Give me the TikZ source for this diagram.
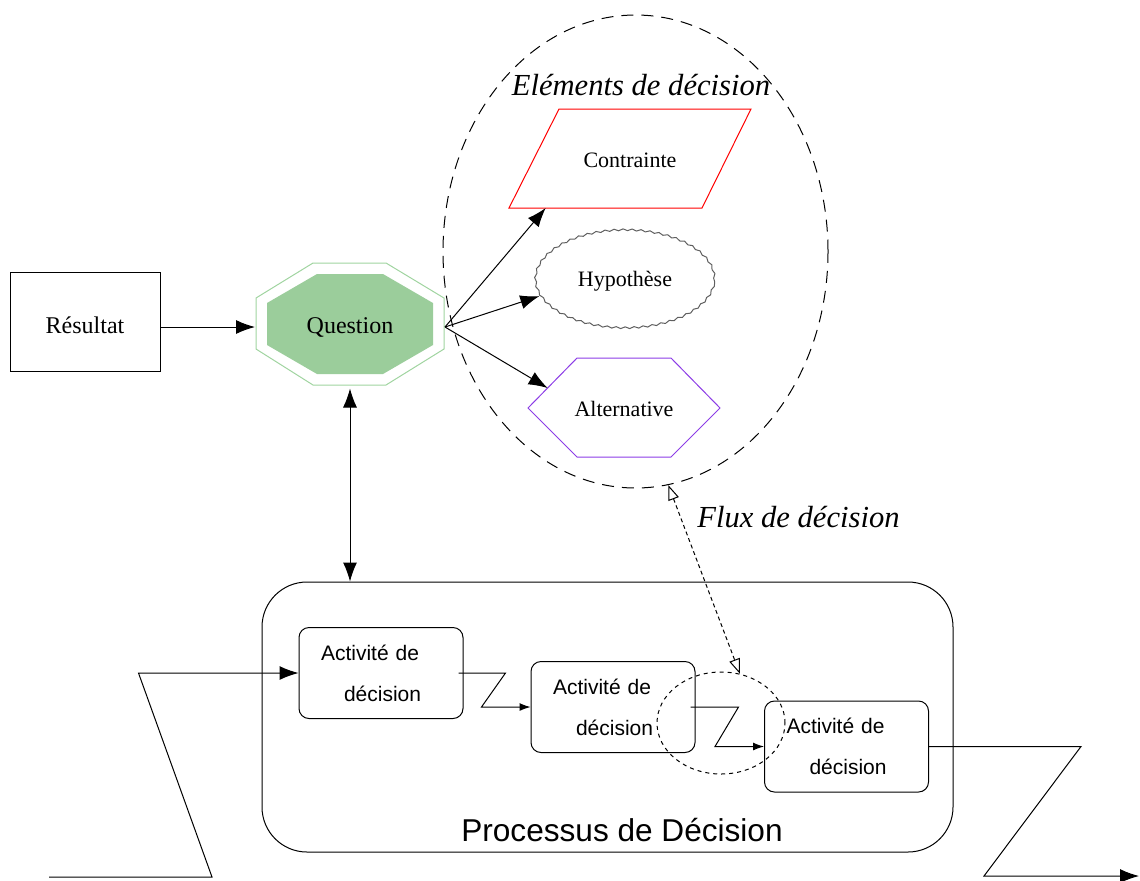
\documentclass[tikz,border=0pt]{standalone}
\usepackage{fontspec}
\setmainfont{Liberation Serif}
\setsansfont{Liberation Sans}
\usetikzlibrary{arrows.meta,shapes.geometric,decorations.pathmorphing,calc}

\definecolor{qfill}{RGB}{155,205,155}
\definecolor{qline}{RGB}{160,212,160}
\definecolor{hypgray}{RGB}{95,95,95}
\definecolor{altviolet}{RGB}{140,60,230}

\begin{document}
\begin{tikzpicture}[x=0.5pt, y=-0.5pt, line width=0.5pt,
    bigtip/.style={-{Latex[length=9.5pt,width=7pt]}},
    smalltip/.style={-{Latex[length=5.5pt,width=4pt]}},
    shapetext/.style={font=\fontsize{11}{13}\selectfont},
    headline/.style={anchor=base, font=\fontsize{15.3}{18}\selectfont\itshape},
    activity/.style={draw, rounded corners=5pt, text width=60pt, align=left,
        inner xsep=11pt, minimum height=45.5pt,
        font=\sffamily\fontsize{10.5}{20.5}\selectfont}]
    \useasboundingbox (0,0) rectangle (1140,880);
    % Result and question
    \node[draw, minimum width=75pt, minimum height=49.5pt, text height=11.5pt,
        text depth=0pt, font=\fontsize{12}{14}\selectfont] (res) at (85,321.5) {Résultat};
    \draw[qline] (313,263) -- (386,263) -- (444,298) -- (444,349) -- (386,385)
        -- (313,385) -- (256,349) -- (256,298) -- cycle;
    \fill[qfill] (317,274) -- (383,274) -- (433,303) -- (433,345) -- (383,374)
        -- (317,374) -- (267,345) -- (267,303) -- cycle;
    \node[minimum width=94.5pt, minimum height=61pt, inner sep=0pt,
        font=\fontsize{12}{14}\selectfont] (quest) at (350,327) {Question};
    \draw[bigtip] (res.east |- quest.west) -- (quest.west);
    % Decision elements
    \node[ellipse, draw, dash pattern=on 6pt off 4pt, minimum width=192.5pt,
        minimum height=236.5pt] (elem) at (635.5,251.5) {};
    \node[headline] (elemtitle) at (641,95) {Eléments de décision};
    \draw[red] (509,208) coordinate (contr-bl) -- (559,109) -- (751,109)
        -- (702,208) coordinate (contr-br) -- cycle;
    \node[shapetext] (contr) at (630,160) {Contrainte};
    \node[shapetext, ellipse, draw=hypgray, minimum width=89.5pt, minimum height=49pt,
        decorate, decoration={snake, segment length=4.5pt, amplitude=0.45pt}]
        (hyp) at (625,281) {Hypothèse};
    \draw[altviolet] (528,408) coordinate (alt-w) -- (577,358) coordinate (alt-nw)
        -- (671,358) -- (720,408) -- (671,457) -- (577,457) -- cycle;
    \node[shapetext] (alt) at (624,409) {Alternative};
    \draw[bigtip] (quest.east) -- ($(contr-bl)!0.19!(contr-br)$);
    \draw[bigtip] (quest.east) -- (hyp.190);
    \draw[bigtip] (quest.east) -- ($(alt-w)!0.4!(alt-nw)$);
    % Decision process
    \node[draw, rounded corners=22.5pt, minimum width=345.5pt,
        minimum height=135pt] (proc) at (607.5,717) {};
    \node[anchor=base, font=\sffamily\fontsize{15.8}{18}\selectfont]
        (proctitle) at (622,841) {Processus de Décision};
    \draw[{Latex[length=9.5pt,width=7pt]}-{Latex[length=9.5pt,width=7pt]}]
        (quest.south) -- (quest.south |- proc.north);
    \node[activity] (act1) at (381,673) {Activité de\\\hspace*{11.5pt}décision};
    \node[activity] (act2) at (613,707) {Activité de\\\hspace*{11.5pt}décision};
    \node[activity] (act3) at (846.5,746.5) {Activité de\\\hspace*{11.5pt}décision};
    % Decision flow
    \node[ellipse, draw, dash pattern=on 2pt off 2pt, minimum width=64pt,
        minimum height=51pt] (flow) at (721,723) {};
    \node[headline] (fluxtitle) at (798.5,527) {Flux de décision};
    \draw[dash pattern=on 2pt off 1.5pt,
        {Triangle[open,length=7.5pt,width=5.5pt]}-{Triangle[open,length=7.5pt,width=5.5pt]}]
        (elem.278) -- (flow.69);
    % Activity chain
    \coordinate (src) at (49,877);
    \coordinate (sink) at (1139,876);
    \draw[bigtip] (src) -- (212,877) -- ([xshift=-80pt]act1.west) -- (act1.west);
    \draw[smalltip] ([xshift=-2.5pt]act1.east) -- ++(47,0)
        -- ([xshift=-24.5pt]act2.west) -- (act2.west);
    \draw[smalltip] ([xshift=-2.5pt]act2.east) -- ++(48,0)
        -- ([xshift=-24.5pt]act3.west) -- (act3.west);
    \draw[bigtip] (act3.east) -- ++(152,0) -- (984,876) -- (sink);
\end{tikzpicture}
\end{document}
